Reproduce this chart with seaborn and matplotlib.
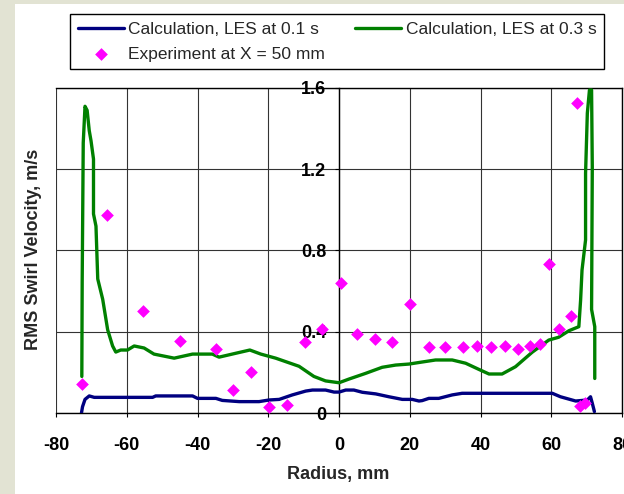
import matplotlib
matplotlib.use("Agg")
import matplotlib.pyplot as plt
from matplotlib.patches import Rectangle
import seaborn as sns

# LES calculation at 0.1 s
les01_radius = [-72.8, -72.5, -71.8, -70.6, -69.2, -52.7, -51.8, -41.4, -40.0, -34.8,
                -33.0, -28.2, -22.6, -19.8, -16.9, -13.2, -9.4, -7.5, -3.8, -1.4,
                0.0, 1.9, 4.2, 6.6, 10.4, 14.1, 17.9, 20.7, 22.6, 23.5,
                25.4, 28.2, 32.0, 34.8, 60.3, 62.6, 66.9, 70.2, 71.1, 71.6, 72.2]
les01_rms = [0.0, 0.031, 0.067, 0.084, 0.077, 0.077, 0.084, 0.084, 0.072, 0.072,
             0.062, 0.056, 0.056, 0.064, 0.067, 0.089, 0.108, 0.113, 0.113, 0.103,
             0.103, 0.113, 0.113, 0.102, 0.094, 0.080, 0.067, 0.067, 0.059, 0.061,
             0.072, 0.072, 0.089, 0.097, 0.097, 0.080, 0.059, 0.064, 0.080, 0.048, 0.007]

# LES calculation at 0.3 s
les03_radius = [-72.7, -72.6, -72.3, -71.8, -71.2, -70.6, -70.1, -69.4, -69.4, -68.7,
                -68.2, -66.8, -65.4, -64.0, -63.1, -61.7, -59.8, -57.9, -55.1, -52.3,
                -46.6, -41.4, -35.8, -33.9, -29.2, -25.2, -22.1, -17.9, -14.6, -11.3,
                -7.1, -3.8, 0.0, 2.8, 7.5, 12.2, 16.0, 19.8, 23.5, 27.3,
                32.0, 35.8, 39.5, 42.4, 46.1, 49.9, 54.6, 59.3, 62.1, 65.0,
                67.8, 68.3, 68.7, 69.7, 69.7, 70.2, 70.8, 71.4, 71.6, 71.4, 72.3, 72.3]
les03_rms = [0.18, 0.64, 1.33, 1.51, 1.49, 1.39, 1.34, 1.25, 0.98, 0.92,
             0.66, 0.56, 0.41, 0.33, 0.30, 0.31, 0.31, 0.33, 0.32, 0.29,
             0.27, 0.29, 0.29, 0.275, 0.294, 0.31, 0.29, 0.27, 0.25, 0.23,
             0.18, 0.158, 0.149, 0.167, 0.195, 0.225, 0.236, 0.241, 0.251, 0.261,
             0.261, 0.245, 0.215, 0.192, 0.192, 0.228, 0.299, 0.359, 0.373, 0.405,
             0.425, 0.556, 0.704, 0.852, 1.18, 1.476, 1.59, 1.59, 1.21, 0.51, 0.425, 0.17]

# Experiment at X = 50 mm
exp_radius = [-72.6, -65.6, -55.3, -44.9, -34.7, -30.1, -24.9, -19.8, -14.6, -9.7,
              -4.7, 0.5, 5.2, 10.2, 14.9, 20.1, 25.4, 29.9, 35.1, 38.9,
              43.1, 46.9, 50.7, 54.0, 56.8, 59.5, 62.3, 65.6, 67.4, 68.1, 69.4]
exp_rms = [0.143, 0.975, 0.504, 0.356, 0.315, 0.113, 0.202, 0.031, 0.039, 0.348,
           0.413, 0.642, 0.389, 0.364, 0.350, 0.537, 0.323, 0.323, 0.323, 0.331,
           0.323, 0.331, 0.315, 0.331, 0.340, 0.732, 0.413, 0.479, 1.525, 0.036, 0.048]

x_ticks = [-80, -60, -40, -20, 0, 20, 40, 60, 80]
y_ticks = [0, 0.4, 0.8, 1.2, 1.6]
y_tick_labels = ["0", "0.4", "0.8", "1.2", "1.6"]

sns.set_theme(style="white")
plt.rcParams["font.family"] = ["Liberation Sans", "DejaVu Sans"]
plt.rcParams["axes.unicode_minus"] = False

fig = plt.figure(figsize=(6.24, 4.94), dpi=100, facecolor="#e2e3d3")
# white sheet behind the chart, leaving a thin textured margin left and top
fig.patches.append(Rectangle((15 / 624, 0), 1, 1 - 4 / 494, transform=fig.transFigure,
                             facecolor="white", edgecolor="none", zorder=-10))
ax = fig.add_axes([56 / 624, 1 - 413 / 494, 566 / 624, 325 / 494])
ax.set_facecolor("white")

sns.lineplot(x=les01_radius, y=les01_rms, sort=False, estimator=None, ax=ax,
             color="#000080", linewidth=2.4, label="Calculation, LES at 0.1 s", zorder=3)
sns.scatterplot(x=exp_radius, y=exp_rms, ax=ax, marker="D", s=42, color="#ff00ff",
                linewidth=0, label="Experiment at X = 50 mm", zorder=4)
sns.lineplot(x=les03_radius, y=les03_rms, sort=False, estimator=None, ax=ax,
             color="#008000", linewidth=2.4, label="Calculation, LES at 0.3 s", zorder=3)

ax.set_xlim(-80, 80)
ax.set_ylim(0, 1.6)
ax.set_xticks(x_ticks)
ax.set_yticks(y_ticks)
ax.set_yticklabels(y_tick_labels)
ax.grid(True, color="#333333", linewidth=0.8)
ax.set_axisbelow(True)

for name, sp in ax.spines.items():
    sp.set_visible(True)
    sp.set_color("black")
    sp.set_linewidth(1.0)
ax.spines["left"].set_position(("data", 0))

ax.tick_params(axis="x", direction="out", length=3, width=0.8, pad=14,
               labelsize=13, colors="black", bottom=True)
ax.tick_params(axis="y", direction="out", length=3, width=0.8, pad=6,
               labelsize=13, colors="black", left=True)
for lbl in ax.get_xticklabels() + ax.get_yticklabels():
    lbl.set_fontweight("bold")
    lbl.set_zorder(5)

ax.set_xlabel("Radius, mm", fontsize=13, fontweight="bold")
ax.set_ylabel("RMS Swirl Velocity, m/s", fontsize=13, fontweight="bold")
ax.xaxis.set_label_coords(0.498, -0.188)
ax.xaxis.label.set_va("center")
ax.yaxis.set_label_coords(-0.040, 0.5046)
ax.yaxis.label.set_va("center")

handles, labels = ax.get_legend_handles_labels()
ax.legend_.remove()
leg = fig.legend(handles, labels, ncol=2, loc="upper left",
                 bbox_to_anchor=(70 / 624, 1 - 14 / 494), bbox_transform=fig.transFigure,
                 fontsize=12.5, frameon=True, fancybox=False, edgecolor="black",
                 framealpha=1, borderpad=0.45, labelspacing=0.55, handlelength=2.65,
                 handletextpad=0.25, columnspacing=1.75, borderaxespad=0)
leg.get_frame().set_linewidth(1.0)

fig.savefig("out.png", dpi=100, facecolor=fig.get_facecolor())
